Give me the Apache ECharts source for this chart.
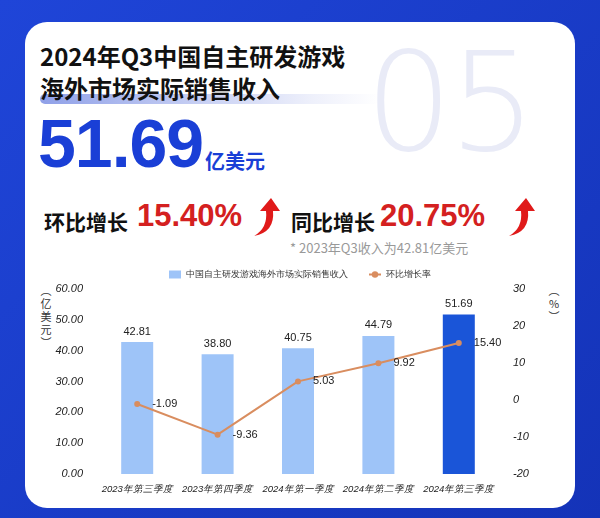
<!DOCTYPE html>
<html><head><meta charset="utf-8">
<script src="https://cdn.jsdelivr.net/npm/echarts@6/dist/echarts.min.js"></script>
<style>
body{margin:0;width:600px;height:518px;background:linear-gradient(135deg,#1f45d8,#1433b8);overflow:hidden;font-family:"Noto Sans CJK SC","Noto Sans",sans-serif;position:relative}
#card{position:absolute;left:25px;top:22px;width:550px;height:486px;background:#fff;border-radius:22px}
.a{position:absolute;white-space:nowrap}
#chart{position:absolute;left:0;top:255px;width:600px;height:255px}
</style></head><body>
<div id="card"></div>
<div class="a" style="left:365px;top:22px;font-size:138px;font-family:'DejaVu Sans';font-weight:200;color:#e9ebf7;letter-spacing:-4px">05</div>
<div class="a" style="left:40px;top:94px;width:340px;height:10px;border-radius:5px;background:linear-gradient(90deg,#8fa0e8,#eef0fb 80%,rgba(255,255,255,0))"></div>
<div class="a" style="left:40px;top:40px;font-size:24px;font-weight:bold;color:#111;line-height:32px">2024年Q3中国自主研发游戏<br>海外市场实际销售收入</div>
<div class="a" style="left:38px;top:104px;font-size:68px;font-weight:bold;color:#1a3fd6;font-family:'Liberation Sans';letter-spacing:-1px">51.69</div>
<div class="a" style="left:205px;top:146px;font-size:20px;font-weight:bold;color:#1a3fd6">亿美元</div>
<div class="a" style="left:44px;top:206px;font-size:21px;font-weight:bold;color:#111">环比增长</div>
<div class="a" style="left:137px;top:198px;font-size:31px;font-weight:bold;color:#d42020;font-family:'Liberation Sans'">15.40%</div>
<div class="a" style="left:291px;top:206px;font-size:21px;font-weight:bold;color:#111">同比增长</div>
<div class="a" style="left:380px;top:198px;font-size:31px;font-weight:bold;color:#d42020;font-family:'Liberation Sans'">20.75%</div>
<svg class="a" style="left:250px;top:196px" width="30" height="42"><path d="M4 40 Q18 32 16 15 L10 15 L21 2 L30 15 L23 15 Q25 36 4 40Z" fill="#e01a1a"/></svg>
<svg class="a" style="left:505px;top:196px" width="30" height="42"><path d="M4 40 Q18 32 16 15 L10 15 L21 2 L30 15 L23 15 Q25 36 4 40Z" fill="#e01a1a"/></svg>
<div class="a" style="left:290px;top:238px;font-size:13px;color:#999">* 2023年Q3收入为42.81亿美元</div>
<div class="a" style="left:40px;top:284px;font-size:11px;color:#333;line-height:13px;text-align:center;width:12px">︵<br>亿<br>美<br>元<br>︶</div>
<div class="a" style="left:548px;top:284px;font-size:11px;color:#333;line-height:13px;text-align:center;width:12px">︵<br>%<br>︶</div>
<div id="chart"></div>
<script>
const categories=["2023年第三季度","2023年第四季度","2024年第一季度","2024年第二季度","2024年第三季度"];
const revenue=[42.81,38.80,40.75,44.79,51.69];
const qoq=[-1.09,-9.36,5.03,9.92,15.40];
const c=echarts.init(document.getElementById('chart'));
c.setOption({
 animation:false,
 legend:{top:10,left:'center',itemWidth:12,itemHeight:8,itemGap:20,textStyle:{fontSize:9,color:'#333'},
  data:[{name:'中国自主研发游戏海外市场实际销售收入',icon:'rect'},{name:'环比增长率'}]},
 grid:{left:97,right:101,top:34,bottom:36},
 xAxis:{type:'category',data:categories,axisLine:{show:false},axisTick:{show:false},axisLabel:{interval:0,fontSize:9.5,color:'#222',fontStyle:'italic',margin:10}},
 yAxis:[{type:'value',min:0,max:60,interval:10,splitLine:{show:false},axisLabel:{formatter:v=>v.toFixed(2),fontSize:11,color:'#222',fontStyle:'italic',margin:14}},
  {type:'value',min:-20,max:30,interval:10,splitLine:{show:false},axisLabel:{fontSize:11,color:'#222',fontStyle:'italic',margin:14}}],
 series:[{name:'中国自主研发游戏海外市场实际销售收入',type:'bar',barWidth:32,itemStyle:{color:'#9ec4f8'},
   data:revenue.map((v,i)=>i===4?{value:v,itemStyle:{color:'#1a55d8'}}:v),
   label:{show:true,position:'top',formatter:p=>p.value.toFixed(2),fontSize:11,color:'#222'}},
  {name:'环比增长率',type:'line',yAxisIndex:1,data:qoq,symbol:'circle',symbolSize:6,
   lineStyle:{color:'#d98d5f',width:2},itemStyle:{color:'#d98d5f'},
   label:{show:true,position:'right',distance:12,formatter:p=>p.value.toFixed(2),fontSize:11,color:'#222'}}]
});
</script></body></html>
